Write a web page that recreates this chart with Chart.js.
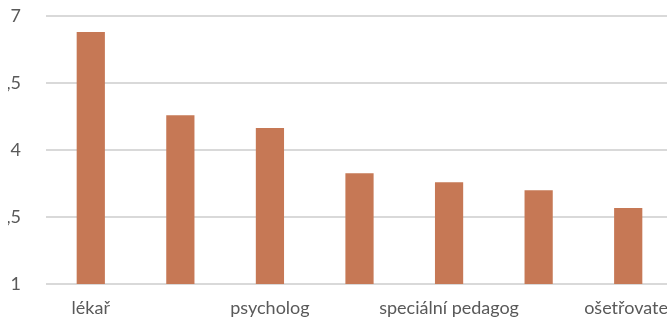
<!DOCTYPE html>
<html>
<head>
<meta charset="utf-8">
<script src="https://cdn.jsdelivr.net/npm/chart.js@4/dist/chart.umd.min.js"></script>
<style>
  html, body { margin: 0; padding: 0; background: #fff; overflow: hidden; }
  #wrap { position: absolute; left: 8px; top: 0; width: 659px; height: 317px; overflow: hidden; }
  #chart { position: absolute; left: -22px; top: 0; }
</style>
</head>
<body>
<div id="wrap">
  <canvas id="chart" width="687" height="317"></canvas>
</div>
<script>
// categories (every second label is hidden in the picture)
const categories = ["lékař", "", "psycholog", "", "speciální pedagog", "", "ošetřovatel"];
const values = [6.64, 4.78, 4.49, 3.48, 3.28, 3.1, 2.7];
const yTicks = [1, 2.5, 4, 5.5, 7];

const barColor = "#c67855";
const textColor = "#595959";
const gridColor = "#d9d9d9";

const ctx = document.getElementById("chart").getContext("2d");
const chart = new Chart(ctx, {
  type: "bar",
  data: {
    labels: categories,
    datasets: [
      {
        data: values,
        backgroundColor: barColor,
        categoryPercentage: 1,
        barPercentage: 0.315,
      },
    ],
  },
  options: {
    responsive: false,
    animation: false,
    layout: { padding: { top: 16, right: 0, bottom: 0, left: 0 } },
    plugins: {
      legend: { display: false },
      tooltip: { enabled: false },
    },
    scales: {
      x: {
        grid: { display: false },
        border: { display: false },
        ticks: {
          color: textColor,
          font: { family: "Lato", size: 18 },
          padding: 5,
          autoSkip: false,
          maxRotation: 0,
        },
        afterFit: (scale) => {
          scale.height = 33;
          scale.paddingLeft = 0;
          scale.paddingRight = 0;
        },
      },
      y: {
        min: yTicks[0],
        max: yTicks[yTicks.length - 1],
        afterBuildTicks: (scale) => {
          scale.ticks = yTicks.map((v) => ({ value: v }));
        },
        grid: {
          color: gridColor,
          lineWidth: 2,
          drawTicks: true,
          tickLength: 22,
          tickColor: "rgba(0,0,0,0)",
        },
        border: { display: false },
        ticks: {
          color: textColor,
          font: { family: "Lato", size: 18 },
          padding: 3,
          callback: (v) => String(v).replace(".", ","),
        },
        afterFit: (scale) => {
          scale.width = 60;
        },
      },
    },
  },
});
</script>
</body>
</html>
